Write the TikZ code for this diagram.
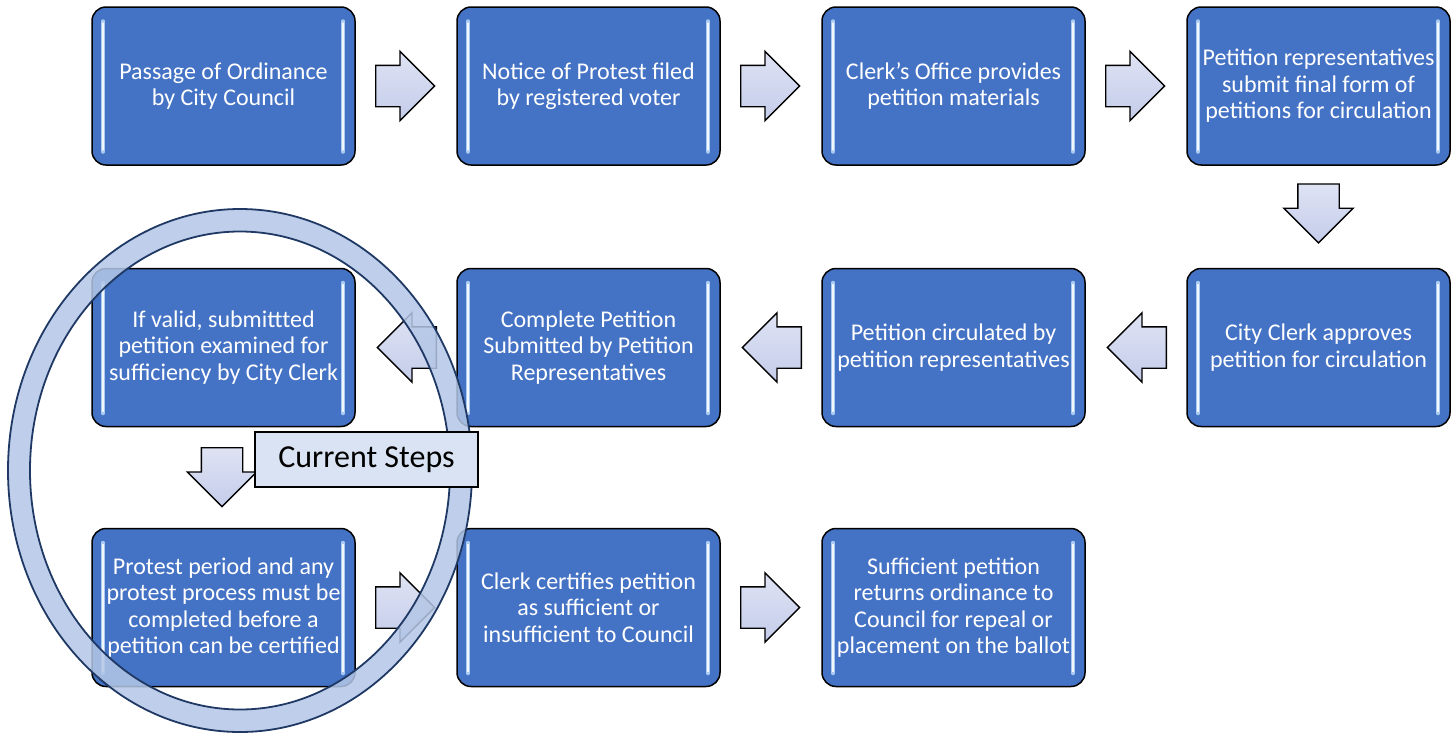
\documentclass[tikz,border=0pt]{standalone}
\usepackage{fontspec}
\setmainfont{Carlito}
\usetikzlibrary{shapes.arrows,calc}
\definecolor{boxblue}{HTML}{4472C4}
\definecolor{hlblue}{HTML}{A9CBF2}
\definecolor{arrowfill}{HTML}{C4CCEA}
\definecolor{ringfill}{HTML}{B4C7E7}
\definecolor{ringline}{HTML}{1F3864}
\definecolor{labelfill}{HTML}{DAE3F3}
\tikzset{
  stepbox/.style={rectangle, rounded corners=14pt, draw=black, line width=1.5pt,
    fill=boxblue, minimum width=263pt, minimum height=158pt, text=white,
    font=\fontsize{24}{26.4}\selectfont, align=center, inner sep=0pt,
    path picture={
      \draw[line width=3.5pt, hlblue, line cap=round]
        ([xshift=11pt,yshift=-14pt]path picture bounding box.north west) --
        ([xshift=11pt,yshift=13pt]path picture bounding box.south west);
      \draw[line width=3.5pt, hlblue, line cap=round]
        ([xshift=-12pt,yshift=-14pt]path picture bounding box.north east) --
        ([xshift=-12pt,yshift=13pt]path picture bounding box.south east);
      \draw[line width=1.2pt, white!85!hlblue, line cap=round]
        ([xshift=11pt,yshift=-16pt]path picture bounding box.north west) --
        ([xshift=11pt,yshift=15pt]path picture bounding box.south west);
      \draw[line width=1.2pt, white!85!hlblue, line cap=round]
        ([xshift=-12pt,yshift=-16pt]path picture bounding box.north east) --
        ([xshift=-12pt,yshift=15pt]path picture bounding box.south east);
    }},
  flowarrow/.style={single arrow, draw=black, line width=1.4pt, top color=arrowfill!55!white,
    bottom color=arrowfill, minimum height=59pt, minimum width=68pt,
    single arrow head extend=14pt, single arrow head indent=0pt,
    inner xsep=0pt, inner ysep=20pt, anchor=tail},
  ring/.style={draw=ringline, line width=1.8pt, fill=ringfill, fill opacity=0.85, even odd rule},
  tag/.style={rectangle, draw=black, line width=1.3pt, fill=labelfill, minimum width=223pt,
    minimum height=55pt, font=\fontsize{32}{36}\selectfont, text=black, inner sep=0pt}
}
\begin{document}
\begin{tikzpicture}[x=1pt,y=-1pt]
\useasboundingbox (0,0) rectangle (1455,734);
% row 1
\node[stepbox] (b1) at (223.5,86) {Passage of Ordinance\\by City Council};
\node[stepbox] (b2) at (588.5,86) {Notice of Protest filed\\by registered voter};
\node[stepbox] (b3) at (953.5,86) {Clerk’s Office provides\\petition materials};
\node[stepbox] (b4) at (1318.5,86) {Petition representatives\\submit final form of\\petitions for circulation};
% row 2
\node[stepbox] (b5) at (1318.5,347.5) {City Clerk approves\\petition for circulation};
\node[stepbox] (b6) at (953.5,347.5) {Petition circulated by\\petition representatives};
\node[stepbox] (b7) at (588.5,347.5) {Complete Petition\\Submitted by Petition\\Representatives};
\node[stepbox] (b8) at (223.5,347.5) {If valid, submittted\\petition examined for\\sufficiency by City Clerk};
% row 3
\node[stepbox] (b9) at (223.5,607.5) {Protest period and any\\protest process must be\\completed before a\\petition can be certified};
\node[stepbox] (b10) at (588.5,607.5) {Clerk certifies petition\\as sufficient or\\insufficient to Council};
\node[stepbox] (b11) at (953.5,607.5) {Sufficient petition\\returns ordinance to\\Council for repeal or\\placement on the ballot};
% arrows
\node[flowarrow] (a1) at ($(b1.east)!0.5!(b2.west)+(-31,0)$) {};
\node[flowarrow] (a2) at ($(b2.east)!0.5!(b3.west)+(-31,0)$) {};
\node[flowarrow] (a3) at ($(b3.east)!0.5!(b4.west)+(-31,0)$) {};
\node[flowarrow, rotate=-90] (a4) at ($(b4.south)!0.5!(b5.north)+(0,-33.5)$) {};
\node[flowarrow, rotate=180] (a5) at ($(b5.west)!0.5!(b6.east)+(31,0)$) {};
\node[flowarrow, rotate=180] (a6) at ($(b6.west)!0.5!(b7.east)+(31,0)$) {};
\node[flowarrow, rotate=180] (a7) at ($(b7.west)!0.5!(b8.east)+(31,0)$) {};
\node[flowarrow, rotate=-90] (a8) at ($(b8.south)!0.5!(b9.north)+(-1.5,-30.5)$) {};
\node[flowarrow] (a9) at ($(b9.east)!0.5!(b10.west)+(-31,0)$) {};
\node[flowarrow] (a10) at ($(b10.east)!0.5!(b11.west)+(-31,0)$) {};
% ring
\path[ring] (240,470.5) ellipse [x radius=232, y radius=261.5]
            (240,470.5) ellipse [x radius=210, y radius=239];
% label
\node[tag] (cs) at (366.5,459.5) {Current Steps};
\end{tikzpicture}
\end{document}
